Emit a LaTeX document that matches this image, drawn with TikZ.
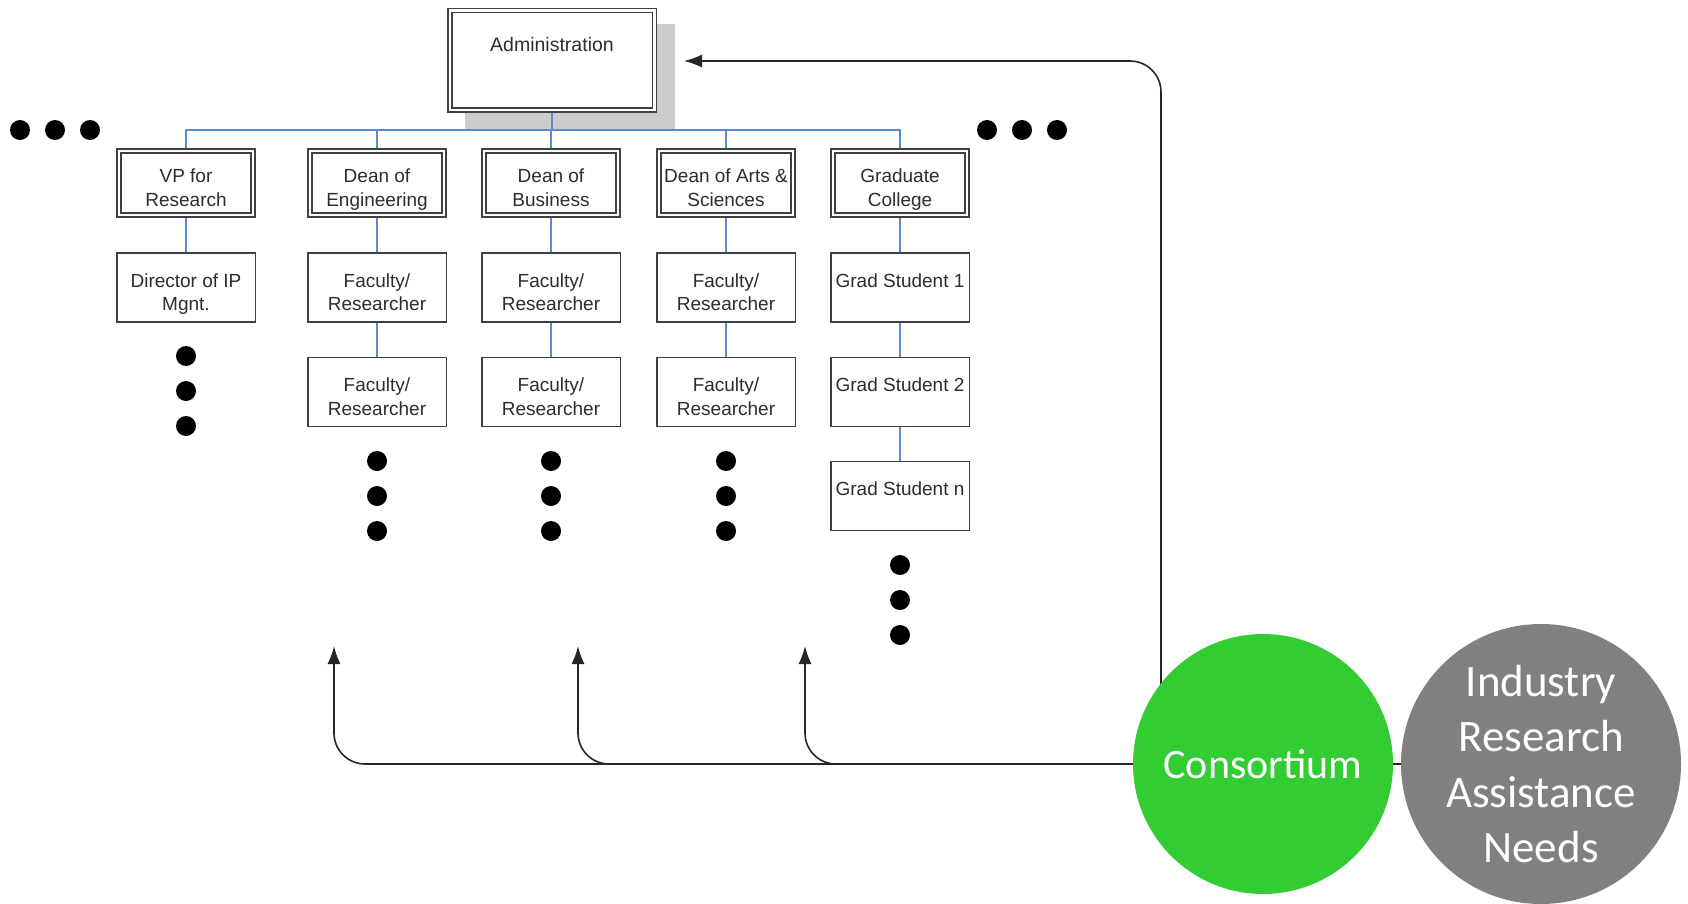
\documentclass[tikz,border=0pt]{standalone}
\usepackage{fontspec}
\setmainfont{Liberation Sans}
\newfontfamily\circfont{Carlito}
\usetikzlibrary{arrows.meta,backgrounds}
\definecolor{boxline}{RGB}{64,64,64}
\definecolor{boxtext}{RGB}{45,45,45}
\definecolor{treeblue}{RGB}{91,138,210}
\definecolor{consgreen}{RGB}{51,204,51}
\definecolor{needgray}{RGB}{128,128,128}
\definecolor{shadowgray}{RGB}{204,204,204}

\begin{document}
\begin{tikzpicture}[x=1pt,y=-1pt,
    unit/.style={rectangle,draw=boxline,fill=white,line width=1.5pt,double,double distance=2.5pt,
        minimum width=134pt,minimum height=64pt,inner sep=0pt,align=center,text=boxtext,
        text height=46pt,text depth=0pt,font=\fontsize{19}{23.5}\selectfont},
    staff/.style={rectangle,draw=boxline,fill=white,line width=1.5pt,
        minimum width=138.5pt,minimum height=69pt,inner sep=0pt,align=center,text=boxtext,
        text height=46pt,text depth=0pt,font=\fontsize{19}{23.5}\selectfont},
    tree/.style={draw=treeblue,line width=1.5pt},
    feedback/.style={draw=black!85,line width=1.6pt,rounded corners=31pt,-{Latex[length=18pt,width=13pt]}},
    dot/.style={fill=black}
]
    \useasboundingbox (0,0) rectangle (1688,904);

    % administration on top
    \node[unit,minimum width=204.5pt,minimum height=99.5pt,text height=0pt,
        label={[anchor=north,inner sep=0pt,yshift=-27pt,text=boxtext,font=\fontsize{19.5}{23.5}\selectfont]north:Administration}]
        (admin) at (552,60.5) {};

    % second level
    \node[unit] (vp)   at (186,183) {VP for\\Research};
    \node[unit] (eng)  at (377,183) {Dean of\\Engineering};
    \node[unit] (busn) at (551,183) {Dean of\\Business};
    \node[unit] (arts) at (726,183) {Dean of Arts \&\\Sciences};
    \node[unit] (grad) at (900,183) {Graduate\\College};

    % third level and below
    \node[staff] (dir)   at (186,287.5) {Director of IP\\Mgnt.};
    \node[staff] (eng1)  at (377,287.5) {Faculty/\\Researcher};
    \node[staff] (eng2)  at (377,392)   {Faculty/\\Researcher};
    \node[staff] (busn1) at (551,287.5) {Faculty/\\Researcher};
    \node[staff] (busn2) at (551,392)   {Faculty/\\Researcher};
    \node[staff] (arts1) at (726,287.5) {Faculty/\\Researcher};
    \node[staff] (arts2) at (726,392)   {Faculty/\\Researcher};
    \node[staff] (gs1)   at (900,287.5) {Grad Student 1\\\mbox{}};
    \node[staff] (gs2)   at (900,392)   {Grad Student 2\\\mbox{}};
    \node[staff] (gsn)   at (900,496)   {Grad Student n\\\mbox{}};

    % ellipsis dots
    \foreach \x in {20,55,90,987,1022,1057} \fill[dot] (\x,130) circle (10pt);
    \foreach \y in {356,391,426} \fill[dot] (186,\y) circle (10pt);
    \foreach \x in {377,551,726}
        \foreach \y in {461,496,531} \fill[dot] (\x,\y) circle (10pt);
    \foreach \y in {565,600,635} \fill[dot] (900,\y) circle (10pt);

    % consortium and industry
    \node[circle,fill=consgreen,minimum size=260pt,inner sep=0pt,text=white,
        font=\circfont\fontsize{42}{50}\selectfont] (cons) at (1263,764) {Consortium};
    \node[circle,fill=needgray,minimum size=280pt,inner sep=0pt,text=white,align=center,
        font=\circfont\fontsize{45}{55.4}\selectfont] (need) at (1541,764) {Industry\\Research\\Assistance\\Needs};

    \coordinate (tap) at (1161,764);
    \coordinate (adminin) at (684,61);
    \coordinate (upeng) at (334,646);
    \coordinate (upbusn) at (578,646);
    \coordinate (uparts) at (805,646);
    \coordinate (fork2) at (640,764);
    \coordinate (fork3) at (867,764);

    \begin{scope}[on background layer]
        % shadow of administration
        \fill[shadowgray] (465,24) rectangle (675,129);

        % tree lines
        \foreach \n in {vp,eng,busn,arts,grad}
            \draw[tree] (admin.south) -- (admin.south |- 0,130) -| (\n.north);
        \draw[tree] (vp) -- (dir);
        \draw[tree] (eng) -- (eng1) -- (eng2);
        \draw[tree] (busn) -- (busn1) -- (busn2);
        \draw[tree] (arts) -- (arts1) -- (arts2);
        \draw[tree] (grad) -- (gs1) -- (gs2) -- (gsn);

        % feedback arrows
        \draw[feedback] (tap) |- (adminin);
        \draw[feedback] (need.west) -| (upeng);
        \draw[feedback] (fork2) -| (upbusn);
        \draw[feedback] (fork3) -| (uparts);
    \end{scope}

\end{tikzpicture}
\end{document}
